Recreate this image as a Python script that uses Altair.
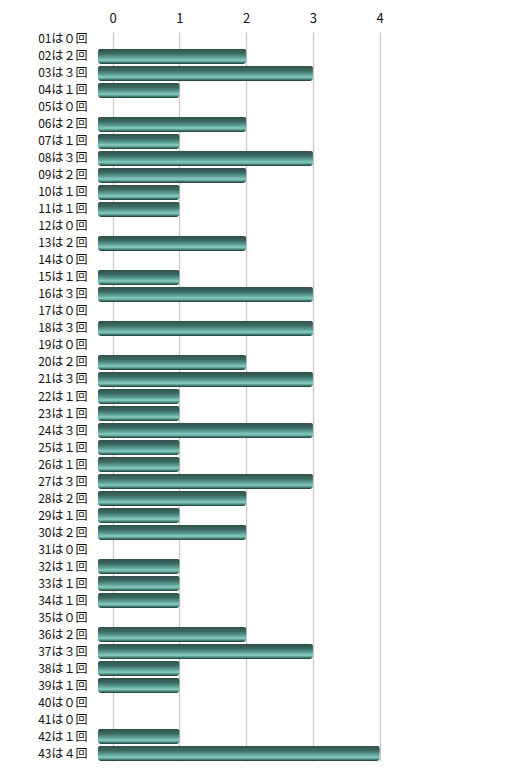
import altair as alt
import pandas as pd

ids = [f"{i:02d}" for i in range(1, 44)]
counts = [0, 2, 3, 1, 0, 2, 1, 3, 2, 1,
          1, 0, 2, 0, 1, 3, 0, 3, 0, 2,
          3, 1, 1, 3, 1, 1, 3, 2, 1, 2,
          0, 1, 1, 1, 0, 2, 3, 1, 1, 0,
          0, 1, 4]
fw = "０１２３４５６７８９"
labels = [f"{i}は{fw[c]}回" for i, c in zip(ids, counts)]
ticks = [0, 1, 2, 3, 4]

df = pd.DataFrame({"label": labels, "count": counts, "start": [-0.22] * len(counts)})

FONT = "Noto Sans CJK JP"

xscale = alt.Scale(domain=[-0.25, 4.05], nice=False, zero=False)
ysc = alt.Scale(domain=labels, paddingInner=0.12, paddingOuter=0.0)

grad = {
    "gradient": "linear", "x1": 0, "y1": 0, "x2": 0, "y2": 1,
    "stops": [
        {"offset": 0.0, "color": "#30514a"},
        {"offset": 0.3, "color": "#3c6a62"},
        {"offset": 0.55, "color": "#5b9c91"},
        {"offset": 0.75, "color": "#88cdc1"},
        {"offset": 0.88, "color": "#4b8b80"},
        {"offset": 1.0, "color": "#1d3632"},
    ],
}

bars = alt.Chart(df).transform_filter("datum.count > 0").mark_bar(
    color=grad, cornerRadiusTopRight=2, cornerRadiusBottomRight=3,
    cornerRadiusTopLeft=2, cornerRadiusBottomLeft=3
).encode(
    x=alt.X("start:Q", scale=xscale,
            axis=alt.Axis(orient="top", values=ticks, title=None, grid=True,
                          gridColor="#c8c8c8", gridWidth=1.3, domain=False,
                          ticks=False, labelPadding=7, labelFontSize=13,
                          labelFont=FONT, labelColor="#111", format="d")),
    x2="count:Q",
    y=alt.Y("label:N", sort=None, scale=ysc,
            axis=alt.Axis(title=None, domain=False, ticks=False,
                          labelFontSize=12, labelFont=FONT, labelColor="#111",
                          labelPadding=9)),
)

chart = bars.properties(
    width=287, height=729,
    autosize=alt.AutoSizeParams(type="none"),
    padding={"left": 88, "top": 24, "right": 10, "bottom": 10},
).configure_view(stroke=None)

chart.save("out.html", embed_options={"renderer": "svg", "actions": False})
